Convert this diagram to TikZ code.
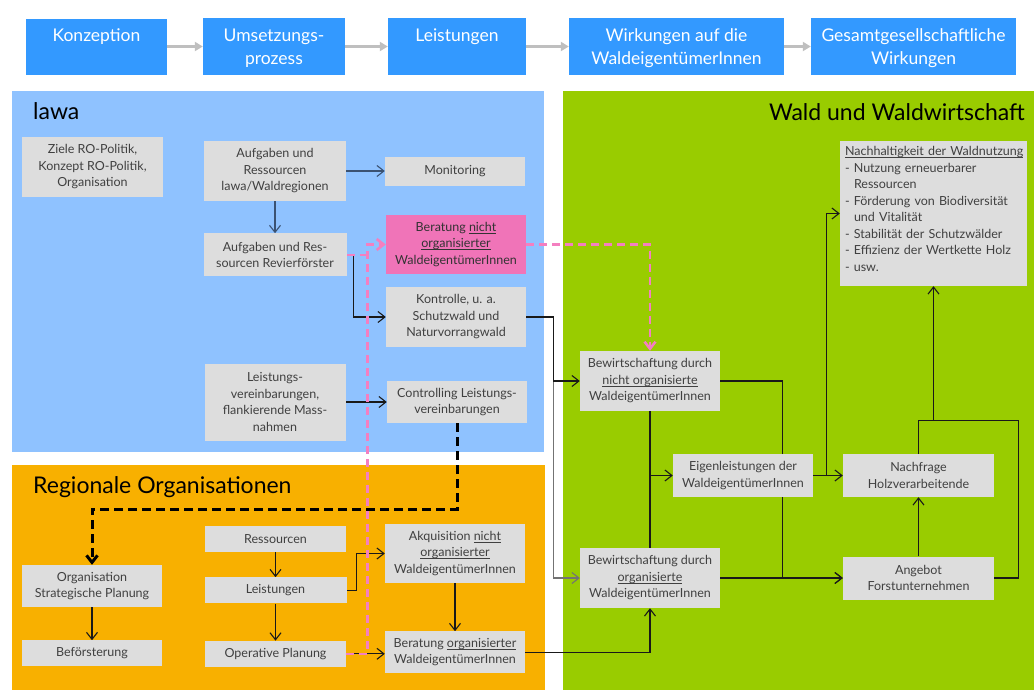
\documentclass[tikz,border=0pt]{standalone}
\usepackage{fontspec}
\setmainfont{Lato}
\usetikzlibrary{arrows.meta,positioning}
\definecolor{topblue}{HTML}{3399FF}
\definecolor{lawablue}{HTML}{8FC2FF}
\definecolor{roorange}{HTML}{F8B000}
\definecolor{waldgreen}{HTML}{99CC00}
\definecolor{boxgray}{HTML}{DDDDDD}
\definecolor{boxtext}{HTML}{404040}
\definecolor{pinkbox}{HTML}{F074B8}
\definecolor{pinkline}{HTML}{F47FC0}
\definecolor{arrowgray}{HTML}{BFBFBF}
\definecolor{slate}{HTML}{3B5272}
\newcommand\uln[1]{\underline{\smash{#1}}}
\pgfdeclarelayer{bg}
\pgfdeclarelayer{lines}
\pgfsetlayers{bg,lines,main}

\begin{document}
\begin{tikzpicture}[x=1pt,y=-1pt,>={Straight Barb[length=7pt,width=11pt]},
    topbox/.style={fill=topblue,text=white,font=\fontsize{17.5}{23.5}\selectfont,
                   align=center,inner sep=0pt,text depth=0pt},
    box/.style={fill=boxgray,text=boxtext,font=\fontsize{12.5}{16.5}\selectfont,
                align=center,inner sep=0pt,minimum width=140},
    title/.style={font=\fontsize{23}{27}\selectfont,inner sep=0pt},
    flow/.style={-{Triangle[length=8pt,width=9pt]},arrowgray,line width=3pt},
    conn/.style={->,black!90,line width=1.1pt},
    pinkdash/.style={->,pinkline,line width=2.6pt,dash pattern=on 8pt off 5pt},
    blackdash/.style={->,black,line width=3pt,dash pattern=on 9pt off 5pt}]
\useasboundingbox (0,0) rectangle (1034,697);

% regions
\begin{pgfonlayer}{bg}
  \fill[lawablue]  (12,91)  rectangle (544,452);
  \fill[roorange]  (12,465) rectangle (545,690);
  \fill[waldgreen] (563,91) rectangle (1034,690);
\end{pgfonlayer}
\node[title,anchor=base west] (lawat) at (33,119) {lawa};
\node[title,anchor=base west] (rot) at (33,493) {Regionale Organisationen};
\node[title,anchor=base east] (waldt) at (1025,120) {Wald und Waldwirtschaft};

% top row
\node[topbox,minimum width=141,minimum height=56] (konz) at (96.5,46.5) {Konzeption\\\mbox{}};
\node[topbox,minimum width=142,minimum height=57] (umsetz) at (274,46.5) {Umsetzungs-\\prozess};
\node[topbox,minimum width=138,minimum height=57] (leist) at (457,46.5) {Leistungen\\\mbox{}};
\node[topbox,minimum width=215,minimum height=57] (wirk) at (676.5,46.5) {Wirkungen auf die\\WaldeigentümerInnen};
\node[topbox,minimum width=205,minimum height=57] (gesamt) at (913.5,46.5) {Gesamtgesellschaftliche\\Wirkungen};

% lawa
\node[box,minimum width=141,minimum height=60] (ziele) at (92.5,167) {Ziele RO-Politik,\\Konzept RO-Politik,\\Organisation};
\node[box,minimum width=142,minimum height=60] (aufglawa) at (275,171) {Aufgaben und\\Ressourcen\\lawa/Waldregionen};
\node[box,minimum width=143,minimum height=43] (revier) [below=32pt of aufglawa] {Aufgaben und Res-\\sourcen Revierförster};
\node[box,minimum width=141,minimum height=77] (leistv) at (275,402) {Leistungs-\\vereinbarungen,\\flankierende Mass-\\nahmen};
\node[box,minimum height=29] (monit) at (455,171) {Monitoring};
\node[box,fill=pinkbox,text=black!80,minimum height=59] (beratnicht) at (456,244.5) {Beratung \uln{nicht}\\\uln{organisierter}\\WaldeigentümerInnen};
\node[box,minimum height=60] (kontr) at (456,317) {Kontrolle, u. a.\\Schutzwald und\\Naturvorrangwald};
\node[box,minimum height=42] (controll) at (457,402) {Controlling Leistungs-\\vereinbarungen};

% Regionale Organisationen
\node[box,minimum height=42] (orgstrat) at (92,586) {Organisation\\Strategische Planung};
\node[box,minimum height=26] (befoer) [below=33pt of orgstrat] {Beförsterung};
\node[box,minimum width=141,minimum height=26] (ressour) at (275.5,539) {Ressourcen};
\node[box,minimum width=142,minimum height=26] (leistro) [below=25pt of ressour] {Leistungen};
\node[box,minimum width=141,minimum height=26] (operativ) [below=37pt of leistro] {Operative Planung};
\node[box,minimum height=59] (akquis) at (455,553.5) {Akquisition \uln{nicht}\\\uln{organisierter}\\WaldeigentümerInnen};
\node[box,minimum height=42] (beratorg) [below=48pt of akquis] {Beratung \uln{organisierter}\\WaldeigentümerInnen};

% Wald und Waldwirtschaft
\node[box,align=left,text width=177,minimum width=187,minimum height=145,inner sep=5pt] (nachh) at (933.5,213.5)
  {\uln{Nachhaltigkeit der Waldnutzung}\\
   - Nutzung erneuerbarer\\
   \hspace*{9pt}Ressourcen\\
   - Förderung von Biodiversität\\
   \hspace*{9pt}und Vitalität\\
   - Stabilität der Schutzwälder\\
   - Effizienz der Wertkette Holz\\
   - usw.};
\node[box,minimum height=60] (bewnicht) at (650,381) {Bewirtschaftung durch\\\uln{nicht organisierte}\\WaldeigentümerInnen};
\node[box,minimum height=43] (eigen) at (743,475.5) {Eigenleistungen der\\WaldeigentümerInnen};
\node[box,minimum width=151,minimum height=43] (nachfr) at (918.5,475.5) {Nachfrage\\Holzverarbeitende};
\node[box,minimum height=60] (beworg) at (650,578) {Bewirtschaftung durch\\\uln{organisierte}\\WaldeigentümerInnen};
\node[box,minimum width=151,minimum height=43] (angebot) at (918.5,578) {Angebot\\Forstunternehmen};

\begin{pgfonlayer}{lines}
  \draw[flow] (konz) -- (umsetz);
  \draw[flow] (umsetz) -- (leist);
  \draw[flow] (leist) -- (wirk);
  \draw[flow] (wirk) -- (gesamt);

  \draw[conn,slate] (aufglawa) -- (monit);
  \draw[conn,slate] (aufglawa) -- (revier);
  \draw[conn] (revier.east) -- ++(7,0) |- (kontr.west);
  \draw[conn] (leistv) -- (controll);
  \draw[conn,black!55] (kontr.east) ++(27,0) |- (beworg.west);
  \draw[conn] (kontr.east) -- ++(27,0) |- (bewnicht.west);

  \draw[conn] (orgstrat) -- (befoer);
  \draw[conn] (ressour) -- (leistro);
  \draw[conn] (leistro) -- (operativ);
  \draw[conn] (leistro.east) -- ++(10,0) |- (akquis.west);
  \draw[conn] (akquis) -- (beratorg);
  \draw[conn] (operativ.east) -- (operativ.east -| beratorg.west);
  \draw[conn] (beratorg.east) -| (beworg.south);

  \draw[conn,-] (bewnicht) -- (beworg);
  \draw[conn] (bewnicht.south |- eigen.west) -- (eigen.west);
  \draw[conn] (bewnicht.east) -- ++(62,0) |- (angebot.west);
  \draw[conn] (beworg) -- (angebot);
  \draw[conn] (eigen) -- (nachfr);
  \draw[conn] (eigen.east) -- ++(13,0) |- (nachh.west);
  \draw[conn] (angebot) -- (nachfr);
  \draw[conn,-] (nachfr.north) -- ++(0,-33) -- ++(100,0) |- (angebot.east);
  \draw[conn] (nachfr.north) ++(15,-33) -- (nachh.south);

  \draw[pinkdash] (beratnicht.east) -| (bewnicht.north);
  \draw[pinkdash,-] (revier.east) -- ++(20,0);
  \draw[pinkdash] (operativ.east) -- ++(21,0) |- (beratnicht.west);
  \draw[blackdash] (controll.south) -- ++(0,86) -| (orgstrat.north);
\end{pgfonlayer}
\end{tikzpicture}
\end{document}
